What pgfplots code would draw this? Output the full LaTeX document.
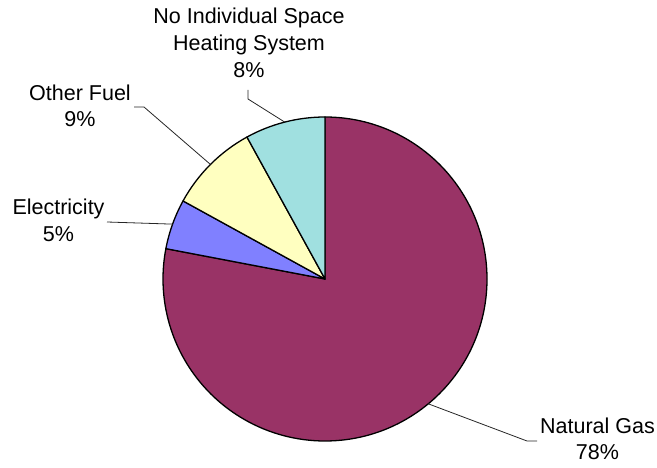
\documentclass[border=0pt]{standalone}
\usepackage{pgfplots}
\pgfplotsset{compat=1.18}
\usepackage{fontspec}
\setmainfont{Liberation Sans}

\definecolor{gascol}{HTML}{993366}
\definecolor{eleccol}{HTML}{8080FF}
\definecolor{fuelcol}{HTML}{FFFFC0}
\definecolor{nonecol}{HTML}{A0E0E0}

% shares of households by main space-heating fuel (percent)
\def\shareGas{78}
\def\shareElec{5}
\def\shareFuel{9}
\def\shareNone{8}

% wedge angles, clockwise from 12 o'clock
\pgfmathsetmacro\aA{90}
\pgfmathsetmacro\aB{\aA-3.6*\shareGas}
\pgfmathsetmacro\aC{\aB-3.6*\shareElec}
\pgfmathsetmacro\aD{\aC-3.6*\shareFuel}
\pgfmathsetmacro\aE{\aD-3.6*\shareNone}
\pgfmathsetmacro\mGas{(\aA+\aB)/2}
\pgfmathsetmacro\mElec{(\aB+\aC)/2}
\pgfmathsetmacro\mFuel{(\aC+\aD)/2}
\pgfmathsetmacro\mNone{(\aD+\aE)/2}

\def\cx{325}
\def\cy{189}
\def\R{162}

\newcommand\lbl[3]{\node[anchor=base,inner sep=0pt] at (axis cs:#1,#2) {#3};}

\begin{document}
\begin{tikzpicture}
\path[use as bounding box] (0,0) rectangle (657bp,468bp);
\begin{axis}[
  at={(0,0)}, anchor=south west,
  width=657bp, height=468bp, scale only axis,
  xmin=0, xmax=657, ymin=0, ymax=468,
  hide axis, clip=false,
]
% wedges
\filldraw[fill=gascol, draw=black, line width=1.3bp, line join=round]
  (axis cs:\cx,\cy) -- ++(\aA:\R bp) arc[start angle=\aA, end angle=\aB, radius=\R bp] -- cycle;
\filldraw[fill=eleccol, draw=black, line width=1.3bp, line join=round]
  (axis cs:\cx,\cy) -- ++(\aB:\R bp) arc[start angle=\aB, end angle=\aC, radius=\R bp] -- cycle;
\filldraw[fill=fuelcol, draw=black, line width=1.3bp, line join=round]
  (axis cs:\cx,\cy) -- ++(\aC:\R bp) arc[start angle=\aC, end angle=\aD, radius=\R bp] -- cycle;
\filldraw[fill=nonecol, draw=black, line width=1.3bp, line join=round]
  (axis cs:\cx,\cy) -- ++(\aD:\R bp) arc[start angle=\aD, end angle=\aE, radius=\R bp] -- cycle;

% leader lines
\draw[line width=0.8bp, black!85] (axis cs:\cx,\cy) ++(\mNone:\R bp) -- (axis cs:248,369) -- (axis cs:248,378);
\draw[line width=0.8bp, black!85] (axis cs:\cx,\cy) ++(\mFuel:\R bp) -- (axis cs:144,361) -- (axis cs:134,361);
\draw[line width=0.8bp, black!85] (axis cs:\cx,\cy) ++(\mElec:\R bp) -- (axis cs:107,246);
\draw[line width=0.8bp, black!85] (axis cs:\cx,\cy) ++(\mGas:\R bp) -- (axis cs:527,27) -- (axis cs:537,27);

% labels
\fontsize{21.5bp}{27bp}\selectfont
\lbl{249}{444}{No Individual Space}
\lbl{249}{417}{Heating System}
\lbl{249}{390}{\shareNone\%}
\lbl{80}{367}{Other Fuel}
\lbl{80}{341}{\shareFuel\%}
\lbl{58.5}{253}{Electricity}
\lbl{58.5}{226}{\shareElec\%}
\lbl{597.5}{34}{Natural Gas}
\lbl{597.5}{8}{\shareGas\%}
\end{axis}
\end{tikzpicture}
\end{document}
